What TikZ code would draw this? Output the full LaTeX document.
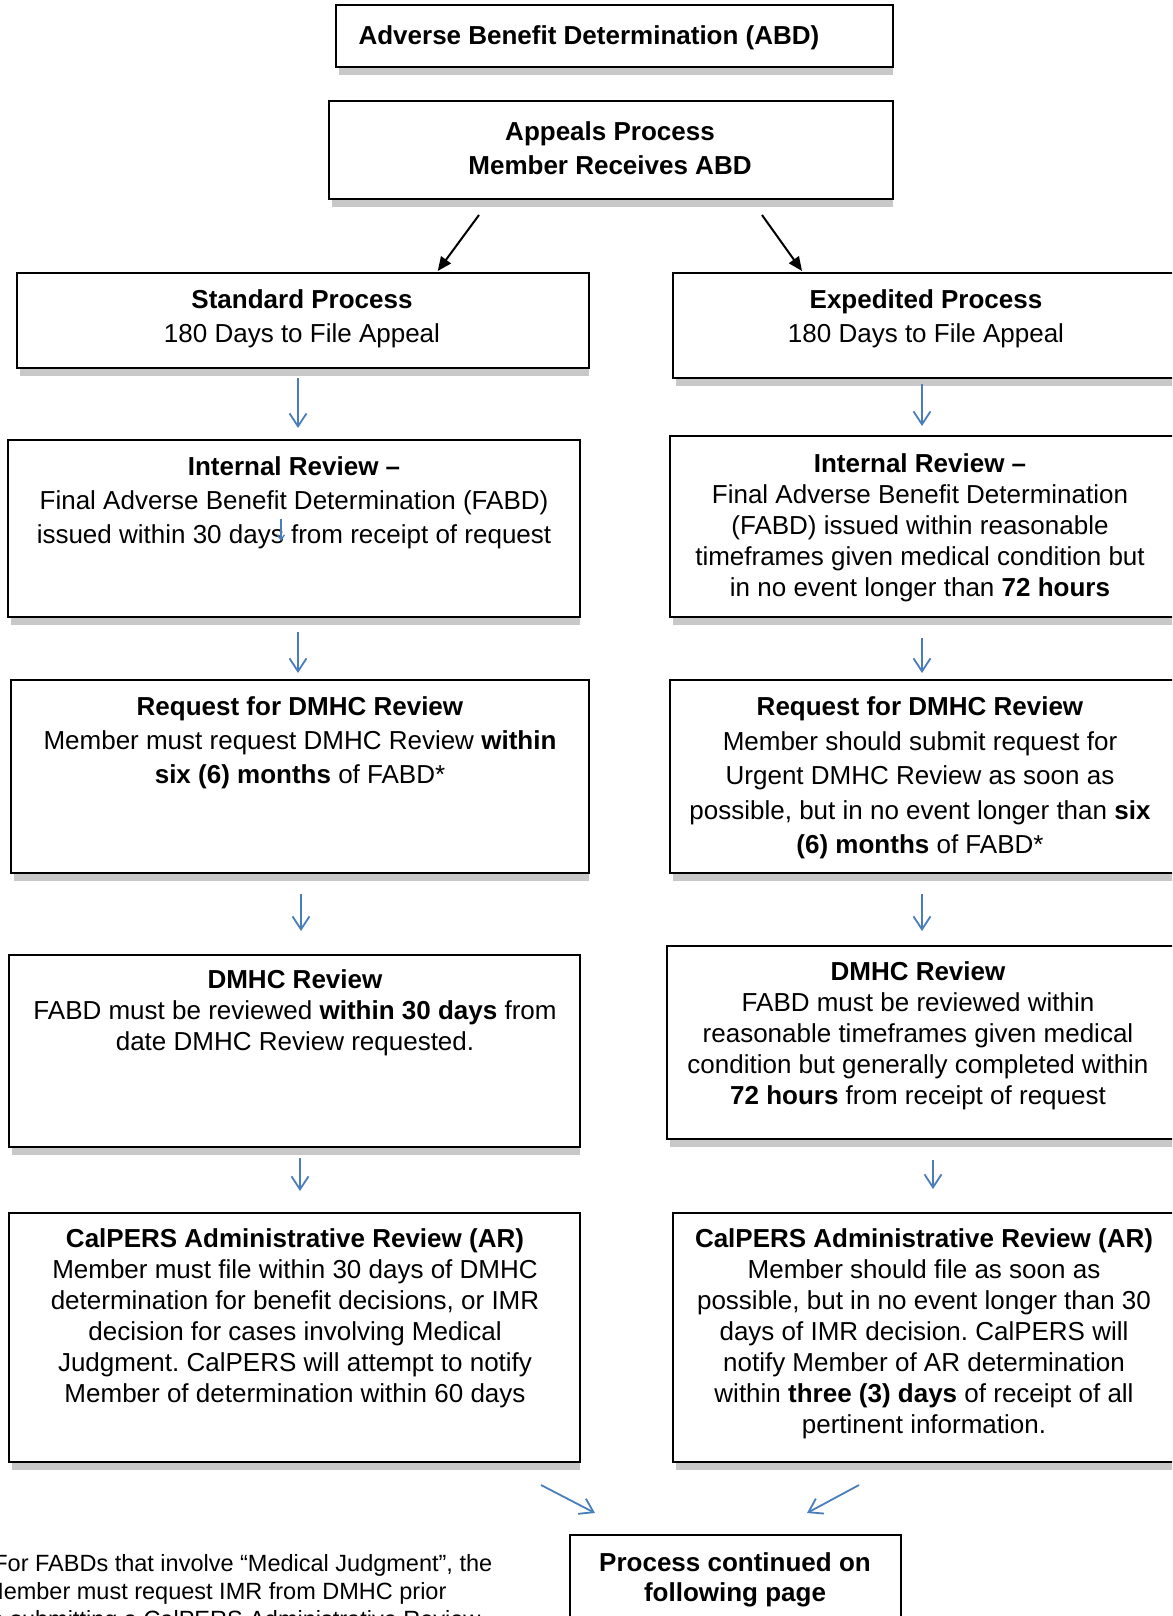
\documentclass[tikz,border=0pt]{standalone}
\usepackage{fontspec}
\setmainfont{Liberation Sans}
\usetikzlibrary{arrows.meta,calc}
\definecolor{arrowblue}{HTML}{4A7EBB}
\definecolor{shadowc}{HTML}{C8C8C8}
\frenchspacing
\begin{document}
\begin{tikzpicture}[x=1pt,y=-1pt,
  box/.style={draw=black, line width=2pt, fill=white, inner sep=0pt, outer sep=0pt},
  txt/.style={align=center, inner sep=0pt, font=\fontsize{26}{34}\selectfont},
  tight/.style={font=\fontsize{26}{31}\selectfont},
  karrow/.style={draw=black, line width=2pt, -{Triangle[length=14pt,width=12pt]}},
  barrow/.style={draw=arrowblue, line width=1.8pt, -{Straight Barb[length=13pt,width=17pt,line width=1.8pt]}},
  sarrow/.style={draw=arrowblue, line width=1.3pt, -{Straight Barb[length=5pt,width=7pt,line width=1.3pt]}}]
\path[use as bounding box] (0,0) rectangle (1172,1616);
\clip (0,0) rectangle (1172,1616);
\fill[white] (0,0) rectangle (1172,1616);

% boxes
\node[box, minimum width=557pt, minimum height=62pt] (abd) at (614.5,36) {};
\node[box, minimum width=564pt, minimum height=98pt] (ap) at (611,150) {};
\node[box, minimum width=572.5pt, minimum height=95pt] (std) at (302.75,320.5) {};
\node[box, minimum width=517pt, minimum height=105pt] (exp) at (931.5,325.5) {};
\node[box, minimum width=572pt, minimum height=177pt] (irl) at (294,528.5) {};
\node[box, minimum width=520pt, minimum height=181pt] (irr) at (930,526.5) {};
\node[box, minimum width=578pt, minimum height=193pt] (rql) at (300,776.5) {};
\node[box, minimum width=520pt, minimum height=193pt] (rqr) at (930,776.5) {};
\node[box, minimum width=571pt, minimum height=192pt] (dml) at (294.5,1051) {};
\node[box, minimum width=523pt, minimum height=193pt] (dmr) at (928.5,1042.5) {};
\node[box, minimum width=571pt, minimum height=249pt] (cpl) at (294.5,1337.5) {};
\node[box, minimum width=517pt, minimum height=249pt] (cpr) at (931.5,1337.5) {};
\node[box, minimum width=331pt, minimum height=105pt] (pc) at (735.5,1587.5) {};

% shadows
\foreach \n in {abd,ap,std,exp,irl,irr,rql,rqr,dml,dmr,cpl,cpr}
  \fill[shadowc] ($(\n.south west)+(3,1)$) rectangle ($(\n.south east)+(0,8)$);

% texts
\node[txt] (abdT) at (589,38) {\textbf{Adverse Benefit Determination (ABD)}};
\node[txt] (apT) at (610,148) {\textbf{Appeals Process}\\\textbf{Member Receives ABD}};
\node[txt] (stdT) at (302,319) {\textbf{Standard Process}\\180 Days to File Appeal};
\node[txt] (expT) at (926,319) {\textbf{Expedited Process}\\180 Days to File Appeal};
\node[txt] (irlT) at (294,503) {\textbf{Internal Review –}\\Final Adverse Benefit Determination (FABD)\\issued within 30 days from receipt of request};
\node[txt, tight] (irrT) at (920,528) {\textbf{Internal Review –}\\Final Adverse Benefit Determination\\(FABD) issued within reasonable\\timeframes given medical condition but\\in no event longer than \textbf{72 hours}};
\node[txt] (rqlT) at (300,743) {\textbf{Request for DMHC Review}\\Member must request DMHC Review \textbf{within}\\\textbf{six (6) months} of FABD*};
\node[txt, font=\fontsize{26}{34.6}\selectfont] (rqrT) at (920,778) {\textbf{Request for DMHC Review}\\Member should submit request for\\Urgent DMHC Review as soon as\\possible, but in no event longer than \textbf{six}\\\textbf{(6) months} of FABD*};
\node[txt, tight] (dmlT) at (295,1013) {\textbf{DMHC Review}\\FABD must be reviewed \textbf{within 30 days} from\\date DMHC Review requested.};
\node[txt, tight] (dmrT) at (918,1036) {\textbf{DMHC Review}\\FABD must be reviewed within\\reasonable timeframes given medical\\condition but generally completed within\\\textbf{72 hours} from receipt of request};
\node[txt, tight] (cplT) at (295,1318.5) {\textbf{CalPERS Administrative Review (AR)}\\Member must file within 30 days of DMHC\\determination for benefit decisions, or IMR\\decision for cases involving Medical\\Judgment. CalPERS will attempt to notify\\Member of determination within 60 days};
\node[txt, tight] (cprT) at (924,1334) {\textbf{CalPERS Administrative Review (AR)}\\Member should file as soon as\\possible, but in no event longer than 30\\days of IMR decision. CalPERS will\\notify Member of AR determination\\within \textbf{three (3) days} of receipt of all\\pertinent information.};
\node[txt, font=\fontsize{26}{30}\selectfont] (pcT) at (735,1579.5) {\textbf{Process continued on}\\\textbf{following page}};
\node[align=left, inner sep=0pt, anchor=north west, font=\fontsize{23.5}{28}\selectfont] (note) at (-16,1554) {*For FABDs that involve “Medical Judgment”, the\\Member must request IMR from DMHC prior\\to submitting a CalPERS Administrative Review};

% connectors
\draw[karrow] ($(ap.south)+(-132,16)$) -- ($(std.north)+(135,-2)$);
\draw[karrow] ($(ap.south)+(151,16)$) -- ($(exp.north)+(-129.5,-2)$);
\draw[barrow] ($(std.south)+(-4.75,10)$) -- ($(irl.north)+(4,-12)$);
\draw[barrow] ($(exp.south)+(-9.5,6)$) -- ($(irr.north)+(-8,-10)$);
\draw[barrow] ($(irl.south)+(4,15)$) -- ($(rql.north)+(-2,-7)$);
\draw[barrow] ($(irr.south)+(-8,21)$) -- ($(rqr.north)+(-8,-7)$);
\draw[barrow] ($(rql.south)+(1,21)$) -- ($(dml.north)+(6.5,-24)$);
\draw[barrow] ($(rqr.south)+(-8,21)$) -- ($(dmr.north)+(-6.5,-15)$);
\draw[barrow] ($(dml.south)+(5.5,11)$) -- ($(cpl.north)+(5.5,-22)$);
\draw[barrow] ($(dmr.south)+(4.5,21)$) -- ($(cpr.north)+(1.5,-24)$);
\draw[barrow] ($(cpl.south)+(246.5,23)$) -- ($(pc.north)+(-140.5,-22)$);
\draw[barrow] ($(cpr.south)+(-72.5,23)$) -- ($(pc.north)+(71.5,-22)$);
% stray small arrow inside the left internal review box
\coordinate (s1) at ($(irlT.center)+(-13,16)$);
\coordinate (s2) at ($(irlT.center)+(-13,38)$);
\draw[sarrow] (s1) -- (s2);
\end{tikzpicture}
\end{document}
